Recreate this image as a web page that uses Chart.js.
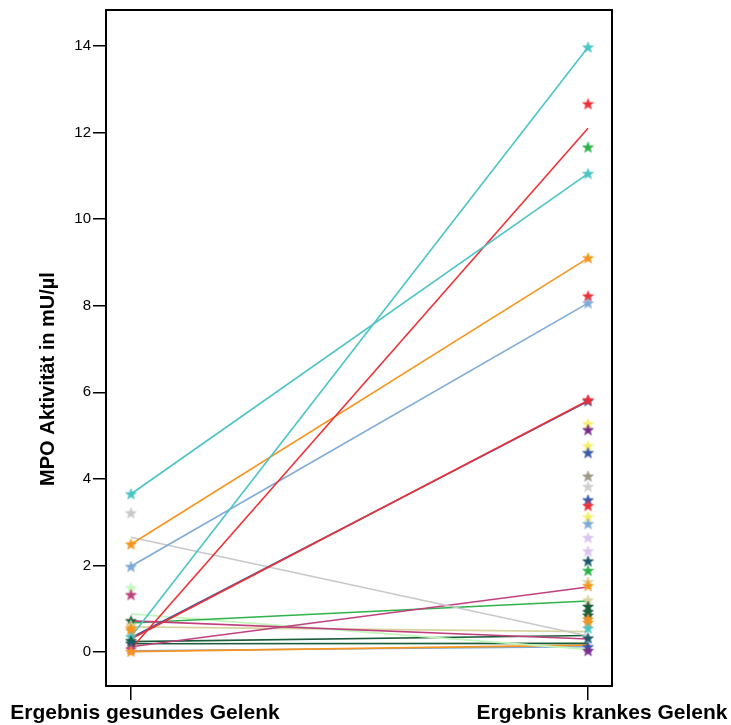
<!DOCTYPE html>
<html>
<head>
<meta charset="utf-8">
<script src="https://cdn.jsdelivr.net/npm/chart.js@4.4.1/dist/chart.umd.min.js"></script>
<style>
    html, body { margin: 0; padding: 0; background: #fff; }
    #wrap { width: 731px; height: 725px; position: relative; }
</style>
</head>
<body>
<div id="wrap"><canvas id="mpo-chart"></canvas></div>
<script>
// Groups on the x axis
const categories = ['Ergebnis gesundes Gelenk', 'Ergebnis krankes Gelenk'];
const yTicks = [0, 2, 4, 6, 8, 10, 12, 14];

// Paired measurements (healthy joint -> diseased joint), one line each
const pairHealthy  = [0.35, 3.65, 0.07, 2.49, 1.98, 0.30, 0.33, 2.65, 0.72, 0.12, 0.67, 0.88, 0.58, 0.24, 0.19, 0.01, 0.03];
const pairDiseased = [13.97, 11.05, 12.10, 9.10, 8.06, 5.81, 5.79, 0.37, 0.30, 1.50, 1.18, 0.06, 0.47, 0.38, 0.20, 0.16, 0.12];
const pairColors = ['#4cc4c6', '#4cc4c6', '#ee3035', '#f7941e', '#7eaad8', '#ee3035', '#3a5aa8', '#c8c8c8',
    '#c0417f', '#c0417f', '#2db34a', '#c3f7bc', '#d8d3a0', '#1b5e3b', '#1b5e3b', '#f7941e', '#7eaad8'];

// Single measurements shown as star markers
const healthyStars = [3.65, 3.21, 2.49, 1.97, 1.48, 1.32, 0.72, 0.62, 0.55, 0.50, 0.35, 0.26, 0.20, 0.07, 0.01];
const healthyStarColors = ['#4cc4c6', '#c8c8c8', '#f7941e', '#7eaad8', '#c3f7bc', '#c0417f', '#1b5e3b', '#d8d3a0',
    '#f7941e', '#f7941e', '#4cc4c6', '#1b5e3b', '#1e5a6e', '#c0417f', '#f7941e'];

const diseasedStars = [13.97, 12.66, 11.66, 11.05, 9.10, 8.22, 8.06, 5.80, 5.82, 5.27, 5.13, 4.76, 4.60, 4.06, 3.82,
    3.51, 3.38, 3.12, 2.96, 2.64, 2.33, 2.10, 1.88, 1.62, 1.53, 1.20, 1.05, 0.93, 0.85, 0.76, 0.68, 0.55, 0.32, 0.12, 0.03];
const diseasedStarColors = ['#4cc4c6', '#ee3035', '#2db34a', '#4cc4c6', '#f7941e', '#ee3035', '#7eaad8', '#3a5aa8',
    '#ee3035', '#f5ee6a', '#7b2d8e', '#f5ee6a', '#3a5aa8', '#9a9a86', '#d0d0d0', '#3a5aa8', '#ee3035', '#f5ee6a',
    '#7eaad8', '#dcc3f0', '#dcc3f0', '#1e5a6e', '#2db34a', '#d8d3a0', '#f7941e', '#d8d3a0', '#1b5e3b', '#1b5e3b',
    '#1b5e3b', '#f7941e', '#f7941e', '#4cc4c6', '#1e5a6e', '#3a5aa8', '#7b2d8e'];

const FONT = '"Liberation Sans", Arial, Helvetica, sans-serif';

// small filled five-point star used as point marker
const starCache = {};
function starImage(color) {
    if (starCache[color]) return starCache[color];
    const c = document.createElement('canvas');
    c.width = 13; c.height = 13;
    const g = c.getContext('2d');
    g.beginPath();
    for (let i = 0; i < 10; i++) {
        const r = i % 2 === 0 ? 5.8 : 2.4;
        const a = -Math.PI / 2 + i * Math.PI / 5;
        const px = 6.5 + r * Math.cos(a), py = 6.9 + r * Math.sin(a);
        if (i === 0) g.moveTo(px, py); else g.lineTo(px, py);
    }
    g.closePath();
    g.fillStyle = color;
    g.fill();
    g.lineWidth = 0.6;
    g.strokeStyle = color;
    g.stroke();
    starCache[color] = c;
    return c;
}

const datasets = [];

// stars on top of the lines
datasets.push({
    type: 'scatter',
    data: healthyStars.map(v => ({ x: 0, y: v })),
    pointStyle: healthyStarColors.map(starImage),
    order: 0
});
datasets.push({
    type: 'scatter',
    data: diseasedStars.map(v => ({ x: 1, y: v })),
    pointStyle: diseasedStarColors.map(starImage),
    order: 0
});

pairHealthy.forEach((h, i) => {
    datasets.push({
        type: 'line',
        data: [{ x: 0, y: h }, { x: 1, y: pairDiseased[i] }],
        borderColor: pairColors[i],
        borderWidth: 1.6,
        pointRadius: 0,
        fill: false,
        order: 1
    });
});

// black frame around the plot area plus the rotated y title
const framePlugin = {
    id: 'frame',
    afterDraw(chart) {
        const { ctx, chartArea } = chart;
        ctx.save();
        ctx.strokeStyle = '#000';
        ctx.lineWidth = 2;
        ctx.strokeRect(chartArea.left, chartArea.top, chartArea.right - chartArea.left, chartArea.bottom - chartArea.top);
        ctx.translate(48, 379);
        ctx.rotate(-Math.PI / 2);
        ctx.font = 'bold 20px ' + FONT;
        ctx.fillStyle = '#000';
        ctx.textAlign = 'center';
        ctx.textBaseline = 'middle';
        ctx.fillText('MPO Aktivität in mU/µl', 0, 0);
        ctx.restore();
    }
};

new Chart(document.getElementById('mpo-chart'), {
    data: { datasets: datasets },
    options: {
        responsive: true,
        maintainAspectRatio: false,
        animation: false,
        layout: { padding: { top: 10, right: 119, left: 0, bottom: 0 } },
        plugins: {
            legend: { display: false },
            tooltip: { enabled: false }
        },
        scales: {
            x: {
                type: 'linear',
                min: -0.0547,
                max: 1.0525,
                afterBuildTicks: s => { s.ticks = [{ value: 0 }, { value: 1 }]; },
                afterFit: s => { s.height = 39; s.paddingLeft = 0; s.paddingRight = 0; },
                ticks: {
                    callback: v => categories[v],
                    autoSkip: false,
                    maxRotation: 0,
                    labelOffset: 14,
                    padding: 1,
                    color: '#000',
                    font: { family: FONT, size: 21, weight: 'bold' }
                },
                grid: { drawOnChartArea: false, tickLength: 14, color: '#000', lineWidth: 1.5 },
                border: { display: false }
            },
            y: {
                min: -0.785,
                max: 14.83,
                afterBuildTicks: s => { s.ticks = yTicks.map(v => ({ value: v })); },
                afterFit: s => { s.width = 106; s.paddingTop = 0; s.paddingBottom = 0; },
                ticks: {
                    padding: 2,
                    color: '#000',
                    font: { family: FONT, size: 15 }
                },
                grid: { drawOnChartArea: false, tickLength: 13, color: '#000', lineWidth: 1.5 },
                border: { display: false }
            }
        }
    },
    plugins: [framePlugin]
});
</script>
</body>
</html>
